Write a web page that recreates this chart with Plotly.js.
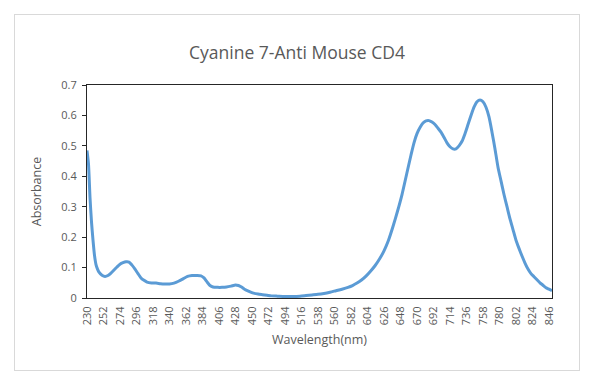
<!DOCTYPE html>
<html>
<head>
<meta charset="utf-8">
<script src="https://cdn.plot.ly/plotly-3.0.1.min.js"></script>
<style>
  html, body { margin: 0; padding: 0; background: #ffffff; }
  #wrap { position: relative; width: 600px; height: 382px; }
  #chart { width: 600px; height: 382px; }
  #frame { position: absolute; left: 14px; top: 14px; width: 564px; height: 355px;
           border: 1px solid #d9d9d9; pointer-events: none; }
</style>
</head>
<body>
<div id="wrap">
  <div id="chart"></div>
  <div id="frame"></div>
</div>
<script>
// Wavelength (nm)
const wavelength = [
  230,232,234,236,238,240,242,244,246,250,254,258,262,266,270,274,278,282,286,290,
  294,298,302,306,310,316,322,328,334,340,346,352,358,364,370,376,382,386,390,394,
  398,404,410,416,422,428,432,436,440,446,452,458,464,470,476,484,494,504,514,522,
  530,538,546,554,562,570,578,584,590,596,602,608,614,620,626,632,638,644,650,656,
  662,666,670,674,678,682,686,690,694,698,702,706,710,714,718,722,726,730,734,738,
  742,746,750,754,758,762,766,770,774,778,782,786,790,794,798,802,806,810,814,818,
  822,826,830,834,838,842,846,850
];
// Absorbance
const absorbance = [
  0.485,0.44,0.33,0.25,0.19,0.14,0.11,0.095,0.085,0.075,0.071,0.074,0.082,0.092,0.102,0.111,0.116,0.119,0.118,0.108,
  0.095,0.08,0.066,0.058,0.052,0.049,0.049,0.047,0.046,0.046,0.049,0.055,0.063,0.071,0.074,0.074,0.073,0.066,0.053,0.041,
  0.036,0.035,0.035,0.036,0.039,0.043,0.041,0.036,0.029,0.022,0.016,0.013,0.011,0.009,0.007,0.006,0.005,0.005,0.006,0.008,
  0.010,0.012,0.015,0.019,0.024,0.029,0.035,0.041,0.049,0.059,0.072,0.088,0.106,0.128,0.155,0.19,0.235,0.285,0.34,0.405,
  0.47,0.51,0.54,0.56,0.575,0.582,0.583,0.578,0.57,0.558,0.545,0.528,0.51,0.497,0.49,0.49,0.50,0.515,0.54,0.57,
  0.60,0.627,0.645,0.651,0.645,0.627,0.595,0.545,0.49,0.43,0.385,0.34,0.30,0.26,0.225,0.19,0.163,0.138,0.115,0.095,
  0.08,0.07,0.06,0.05,0.042,0.034,0.029,0.024
];
// X tick labels
const xTicks = [230,252,274,296,318,340,362,384,406,428,450,472,494,516,538,560,582,604,626,648,670,692,714,736,758,780,802,824,846];
const yTicks = [0,0.1,0.2,0.3,0.4,0.5,0.6,0.7];

const trace = {
  x: wavelength,
  y: absorbance,
  type: 'scatter',
  mode: 'lines',
  line: { color: '#5B9BD5', width: 3, shape: 'spline', smoothing: 0.6 },
  hoverinfo: 'x+y'
};

const layout = {
  width: 600,
  height: 382,
  paper_bgcolor: '#ffffff',
  plot_bgcolor: '#ffffff',
  margin: { l: 87, r: 48, t: 85, b: 84 },
  showlegend: false,
  font: { family: 'Open Sans, Liberation Sans, sans-serif', color: '#595959' },
  title: {
    text: 'Cyanine 7-Anti Mouse CD4',
    font: { family: 'Open Sans, Liberation Sans, sans-serif', size: 17.5, color: '#595959' },
    x: 0.495, xanchor: 'center', y: 0.862, yanchor: 'middle'
  },
  xaxis: {
    range: [230, 850],
    tickmode: 'array',
    tickvals: xTicks,
    ticktext: xTicks.map(String),
    tickangle: -90,
    tickfont: { size: 11, color: '#595959' },
    ticklabelstandoff: 3,
    showgrid: false,
    zeroline: false,
    showline: true,
    mirror: true,
    linecolor: '#262626',
    linewidth: 1,
    ticks: '',
    title: { text: 'Wavelength(nm)', font: { size: 12.5, color: '#595959' }, standoff: 10 }
  },
  yaxis: {
    range: [0, 0.7],
    tickmode: 'array',
    tickvals: yTicks,
    ticktext: yTicks.map(String),
    tickfont: { size: 11, color: '#595959' },
    ticklabelstandoff: 3,
    showgrid: false,
    zeroline: false,
    showline: true,
    mirror: true,
    linecolor: '#262626',
    linewidth: 1,
    ticks: 'outside',
    ticklen: 4,
    tickcolor: '#262626',
    title: { text: 'Absorbance', font: { size: 12.5, color: '#595959' }, standoff: 16 }
  }
};

Plotly.newPlot('chart', [trace], layout, { displayModeBar: false, staticPlot: true });
</script>
</body>
</html>
